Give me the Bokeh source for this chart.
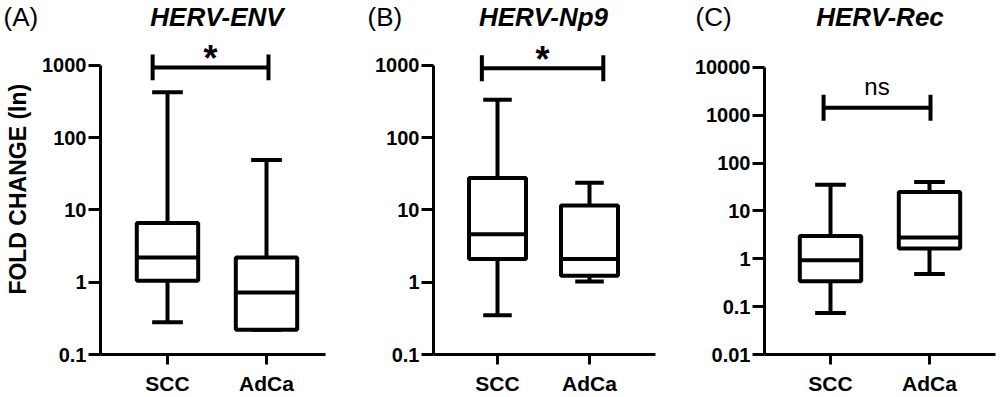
import math
from bokeh.plotting import figure
from bokeh.layouts import row, column
from bokeh.models import Range1d, FixedTicker, CustomJSTickFormatter, Label
from bokeh.embed import file_html
from bokeh.resources import INLINE
from bokeh.core.properties import value

# ---------------- data ----------------
categories = ["SCC", "AdCa"]
panel_letters = ["(A)", "(B)", "(C)"]
panel_titles = ["HERV-ENV", "HERV-Np9", "HERV-Rec"]
y_label = "FOLD CHANGE (ln)"

env_min = [0.28, 0.22]
env_q1 = [1.05, 0.22]
env_med = [2.2, 0.72]
env_q3 = [6.6, 2.2]
env_max = [425, 49]

np9_min = [0.35, 1.02]
np9_q1 = [2.1, 1.23]
np9_med = [4.6, 2.1]
np9_q3 = [27.7, 11.5]
np9_max = [333, 23.7]

rec_min = [0.074, 0.48]
rec_q1 = [0.34, 1.64]
rec_med = [0.93, 2.77]
rec_q3 = [3.0, 24.8]
rec_max = [35, 40]

significance = ["*", "*", "ns"]
bracket_left = [0.85, 0.83, 0.93]
bracket_right = [2.02, 2.15, 2.01]
bracket_y = [935, 910, 1430]

y_lo = [0.1, 0.1, 0.01]
y_hi = [1000, 1000, 10000]

stats = [
    (env_min, env_q1, env_med, env_q3, env_max),
    (np9_min, np9_q1, np9_med, np9_q3, np9_max),
    (rec_min, rec_q1, rec_med, rec_q3, rec_max),
]

# ---------------- layout (pixels) ----------------
LABEL_W = 34                   # strip holding the rotated y-axis title
FIG_W = [330, 330, 340]
BORDER_L = [100, 103, 104]
BORDER_R = [5, 5, 5]
PX_PER_CAT = [99, 92, 99]
FIRST_CAT_PX = [67, 64, 66]
HEAD_H = 34
MAIN_H = 363
BORDER_B = 41
FRAME_H = MAIN_H - BORDER_B
TOP_PX = [31, 31, 33]          # frame top -> top decade tick
LETTER_PX = [3, 37, 35]        # letter left edge inside panel
TEXT_MID = 16                  # vertical middle of header texts
YLAB_X = 17                    # middle of rotated y title (px from left)
YLAB_Y = 175.5                 # centre of rotated y title (px from top of main row)

FONT = "Liberation Sans"
BOX_W = 0.62
CAP_W = 0.31
LW = 4

# strip with the y-axis title
lab = figure(width=LABEL_W, height=MAIN_H, x_range=Range1d(0, LABEL_W),
             y_range=Range1d(0, MAIN_H), output_backend="svg", toolbar_location=None,
             x_axis_location=None, y_axis_location=None,
             min_border_left=0, min_border_right=0, min_border_top=0, min_border_bottom=0)
lab.outline_line_color = None
lab.grid.visible = False
lab.text(x=[YLAB_X], y=[MAIN_H - YLAB_Y], text=[y_label], angle=math.pi / 2,
         text_font=value(FONT), text_font_size="23px", text_font_style="bold",
         text_color="black", text_align="center", text_baseline="middle")

heads, mains = [], [lab]
for i in range(3):
    ppu = PX_PER_CAT[i]
    frame_w = FIG_W[i] - BORDER_L[i] - BORDER_R[i]
    xs = 1 - FIRST_CAT_PX[i] / ppu
    xe = xs + frame_w / ppu
    dec = math.log10(y_hi[i]) - math.log10(y_lo[i])
    ppd = (FRAME_H - TOP_PX[i]) / dec
    ye = 10 ** (math.log10(y_hi[i]) + TOP_PX[i] / ppd)

    # ---- header strip with panel letter and title ----
    hx0 = xs - BORDER_L[i] / ppu
    hx1 = xe + BORDER_R[i] / ppu
    h = figure(width=FIG_W[i], height=HEAD_H, x_range=Range1d(hx0, hx1),
               y_range=Range1d(HEAD_H, 0), output_backend="svg", toolbar_location=None,
               x_axis_location=None, y_axis_location=None,
               min_border_left=0, min_border_right=0, min_border_top=0, min_border_bottom=0)
    h.outline_line_color = None
    h.grid.visible = False
    h.text(x=[1.5], y=[TEXT_MID], text=[panel_titles[i]], text_font=value(FONT),
           text_font_size="26px", text_font_style="bold italic", text_color="black",
           text_align="center", text_baseline="middle")
    h.text(x=[hx0 + LETTER_PX[i] / ppu], y=[TEXT_MID], text=[panel_letters[i]],
           text_font=value(FONT), text_font_size="26px", text_font_style="normal",
           text_color="black", text_align="left", text_baseline="middle")
    heads.append(h)

    # ---- main plot ----
    w = FIG_W[i] - (LABEL_W if i == 0 else 0)
    bl = BORDER_L[i] - (LABEL_W if i == 0 else 0)
    p = figure(width=w, height=MAIN_H, y_axis_type="log",
               x_range=Range1d(xs, xe), y_range=Range1d(y_lo[i], ye),
               output_backend="svg", toolbar_location=None,
               min_border_left=bl, min_border_right=BORDER_R[i],
               min_border_top=0, min_border_bottom=BORDER_B)
    p.outline_line_color = None
    p.xgrid.visible = False
    p.ygrid.visible = False

    mn, q1, med, q3, mx = stats[i]
    xc = [k + 1 for k in range(len(categories))]
    p.segment(x0=xc, y0=q3, x1=xc, y1=mx, line_color="black", line_width=LW)
    p.segment(x0=xc, y0=q1, x1=xc, y1=mn, line_color="black", line_width=LW)
    p.segment(x0=[x - CAP_W / 2 for x in xc], y0=mx, x1=[x + CAP_W / 2 for x in xc], y1=mx,
              line_color="black", line_width=LW)
    p.segment(x0=[x - CAP_W / 2 for x in xc], y0=mn, x1=[x + CAP_W / 2 for x in xc], y1=mn,
              line_color="black", line_width=LW)
    p.quad(left=[x - BOX_W / 2 for x in xc], right=[x + BOX_W / 2 for x in xc],
           bottom=q1, top=q3, fill_color="white", line_color="black", line_width=LW)
    p.segment(x0=[x - BOX_W / 2 for x in xc], y0=med, x1=[x + BOX_W / 2 for x in xc], y1=med,
              line_color="black", line_width=LW)

    # significance bracket
    cap = 10 ** (13 / ppd)
    by = bracket_y[i]
    p.segment(x0=[bracket_left[i]], y0=[by], x1=[bracket_right[i]], y1=[by],
              line_color="black", line_width=LW)
    p.segment(x0=[bracket_left[i], bracket_right[i]], y0=[by / cap, by / cap],
              x1=[bracket_left[i], bracket_right[i]], y1=[by * cap, by * cap],
              line_color="black", line_width=LW)
    mid = (bracket_left[i] + bracket_right[i]) / 2
    if significance[i] == "*":
        p.add_layout(Label(x=mid, y=by * 10 ** (9 / ppd), text="*", text_font=FONT,
                           text_font_size="36px", text_font_style="bold", text_color="black",
                           text_align="center", text_baseline="middle"))
    else:
        p.add_layout(Label(x=mid, y=by * 10 ** (21 / ppd), text=significance[i], text_font=FONT,
                           text_font_size="24px", text_font_style="normal", text_color="black",
                           text_align="center", text_baseline="middle"))

    # axes
    ya = p.yaxis[0]
    ya.bounds = (y_lo[i], y_hi[i])
    ya.ticker = FixedTicker(ticks=[10 ** k for k in range(int(round(math.log10(y_lo[i]))),
                                                         int(round(math.log10(y_hi[i]))) + 1)])
    ya.formatter = CustomJSTickFormatter(code="return String(tick);")
    ya.major_label_text_font = FONT
    ya.major_label_text_font_size = "20px"
    ya.major_label_text_font_style = "bold"
    ya.major_label_standoff = 2
    ya.major_tick_out = 12

    xa = p.xaxis[0]
    xa.ticker = FixedTicker(ticks=xc)
    xa.formatter = CustomJSTickFormatter(args=dict(cats=categories),
                                         code="return cats[Math.round(tick) - 1];")
    xa.major_label_text_font = FONT
    xa.major_label_text_font_size = "21px"
    xa.major_label_text_font_style = "bold"
    xa.major_label_standoff = 7
    xa.major_tick_out = 10

    for ax in (xa, ya):
        ax.axis_line_width = 3
        ax.axis_line_color = "black"
        ax.major_tick_line_width = 3
        ax.major_tick_line_color = "black"
        ax.major_tick_in = 0
        ax.minor_tick_line_color = None
        ax.major_label_text_color = "black"

    mains.append(p)

layout = column(row(*heads, spacing=0), row(*mains, spacing=0), spacing=0)
open("out.html", "w").write(file_html(layout, INLINE))
